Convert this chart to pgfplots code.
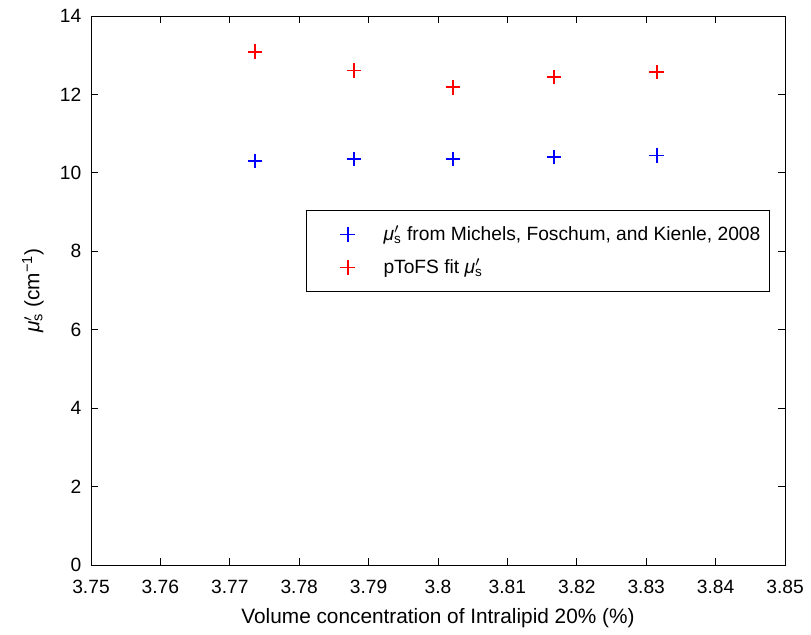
\documentclass[border=0pt]{standalone}
\usepackage{fontspec}
\setmainfont{Liberation Sans}
\usepackage{pgfplots}
\pgfplotsset{compat=1.18}

\newcommand{\mus}{\textit{μ}\rlap{\textsuperscript{$\prime$}}\textsubscript{s}}

\begin{document}
\begin{tikzpicture}
\begin{axis}[
    scale only axis,
    width=347pt,
    height=274.5pt,
    clip=false,
    xmin=3.75, xmax=3.85,
    ymin=0, ymax=14,
    xtick={3.75,3.76,...,3.851},
    ytick={0,2,...,14},
    xticklabels={3.75,3.76,3.77,3.78,3.79,3.8,3.81,3.82,3.83,3.84,3.85},
    tick align=inside,
    major tick length=3.5pt,
    tick style={black, line width=0.4pt},
    axis line style={line width=0.4pt},
    ticklabel style={font=\fontsize{9.6}{11}\selectfont},
    xticklabel style={yshift=-4pt},
    yticklabel style={xshift=-1.3pt},
    /pgf/number format/assume math mode=true,
    label style={font=\fontsize{10.4}{12}\selectfont},
    xlabel={Volume concentration of Intralipid 20\% (\%)},
    ylabel={\mus\ (cm\textsuperscript{−1})},
    xlabel style={at={(axis description cs:0.5,0)}, anchor=center, yshift=-26.5pt},
    ylabel style={at={(axis description cs:-0.0836,0.5)}, anchor=center},
    legend style={
        at={(rel axis cs:0.978,0.6466)},
        anchor=north east,
        font=\fontsize{9.6}{11}\selectfont,
        line width=0.4pt,
        row sep=4.5pt,
        inner xsep=2pt,
        inner ysep=6pt,
        nodes={inner xsep=2.5pt, inner ysep=1.5pt},
    },
    legend cell align=left,
    legend image code/.code={
        \path (0pt,0pt) (33pt,0pt);
        \draw[#1] plot coordinates {(18pt,0pt)};
    },
]
\addplot[only marks, mark=+, mark size=3.6pt, draw=blue,
    mark options={draw=blue}, line width=0.9pt]
    coordinates {(3.7736,10.30) (3.7879,10.35) (3.8022,10.35) (3.8167,10.41) (3.8315,10.44)};
\addlegendentry{\mus\ from Michels, Foschum, and Kienle, 2008}
\addplot[only marks, mark=+, mark size=3.6pt, draw=red,
    mark options={draw=red}, line width=0.9pt]
    coordinates {(3.7736,13.09) (3.7879,12.61) (3.8022,12.18) (3.8167,12.44) (3.8315,12.57)};
\addlegendentry{pToFS fit \mus}
\path (rel axis cs:0,0) ++(-45.5pt,-34.5pt) (rel axis cs:1,1) ++(13pt,8pt);
\end{axis}
\end{tikzpicture}
\end{document}
